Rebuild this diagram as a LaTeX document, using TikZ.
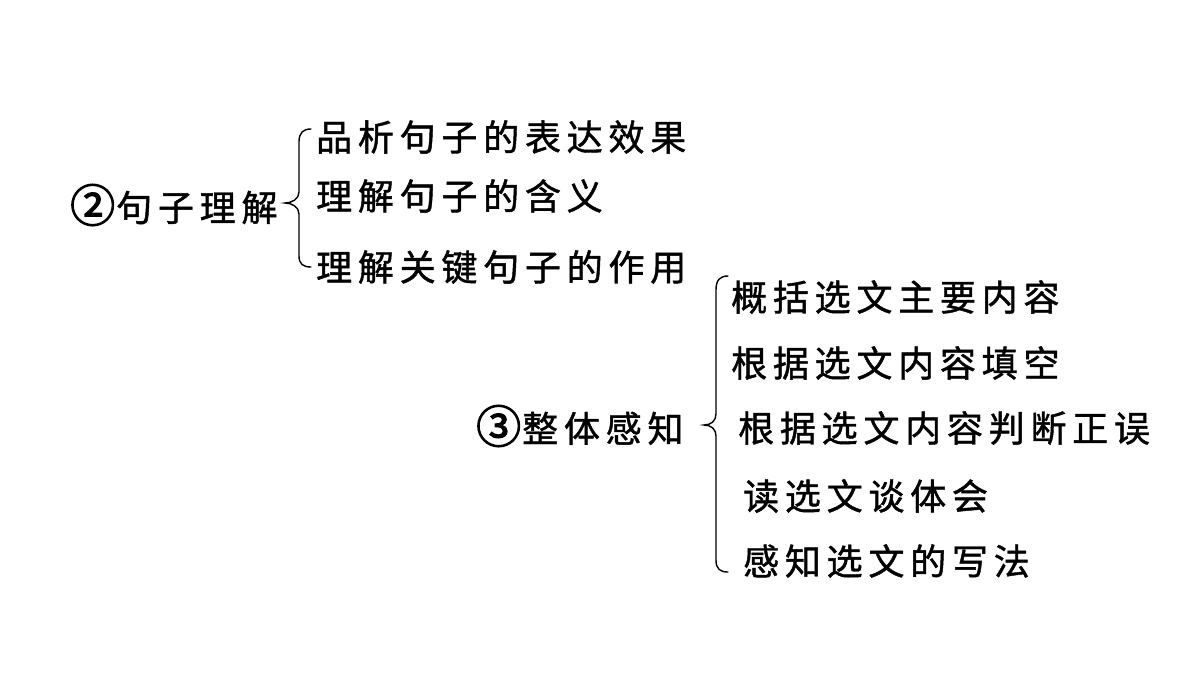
\documentclass[tikz,border=0pt]{standalone}
\usepackage{fontspec}
\newfontfamily\cjk[LetterSpace=16,FakeBold=1.2]{Noto Sans CJK SC}
\newfontfamily\cjknum[FakeBold=2.5]{Noto Sans CJK SC}
\newcommand{\circnum}[1]{{\cjknum\fontsize{45}{45}\selectfont\raisebox{-1pt}{#1}}\hspace{1pt}}
\begin{document}
\begin{tikzpicture}[x=1pt,y=-1pt,
  item/.style={anchor=west, inner sep=0pt, font=\cjk\fontsize{36}{40}\selectfont},
  bracel/.style={line width=1.4pt, line cap=round}]
\useasboundingbox[fill=white] (0,0) rectangle (1200,675);
% group 1
\node[item] (h2) at (70,205) {\circnum{②}句子理解};
\node[item] (a1) at (316,137) {品析句子的表达效果};
\node[item] (a2) at (316,196) {理解句子的含义};
\node[item] (a3) at (316,267) {理解关键句子的作用};
\draw[bracel] (311,129) .. controls (303,129) and (299,133) .. (299,142)
  -- (299,192) .. controls (299,199) and (292,203) .. (285,203)
  .. controls (292,203) and (299,207) .. (299,214)
  -- (299,256) .. controls (299,264) and (303,267) .. (311,267);
% group 2
\node[item] (h3) at (476,426) {\circnum{③}整体感知};
\node[item] (b1) at (731,297) {概括选文主要内容};
\node[item] (b2) at (731,363) {根据选文内容填空};
\node[item] (b3) at (738,428) {根据选文内容判断正误};
\node[item] (b4) at (743,496) {读选文谈体会};
\node[item] (b5) at (743,561) {感知选文的写法};
\draw[bracel] (728,276) .. controls (720,276) and (716,280) .. (716,290)
  -- (716,414) .. controls (716,421) and (711,425) .. (704,425)
  .. controls (711,425) and (716,429) .. (716,436)
  -- (716,560) .. controls (716,569) and (720,572) .. (728,572);
\end{tikzpicture}
\end{document}
